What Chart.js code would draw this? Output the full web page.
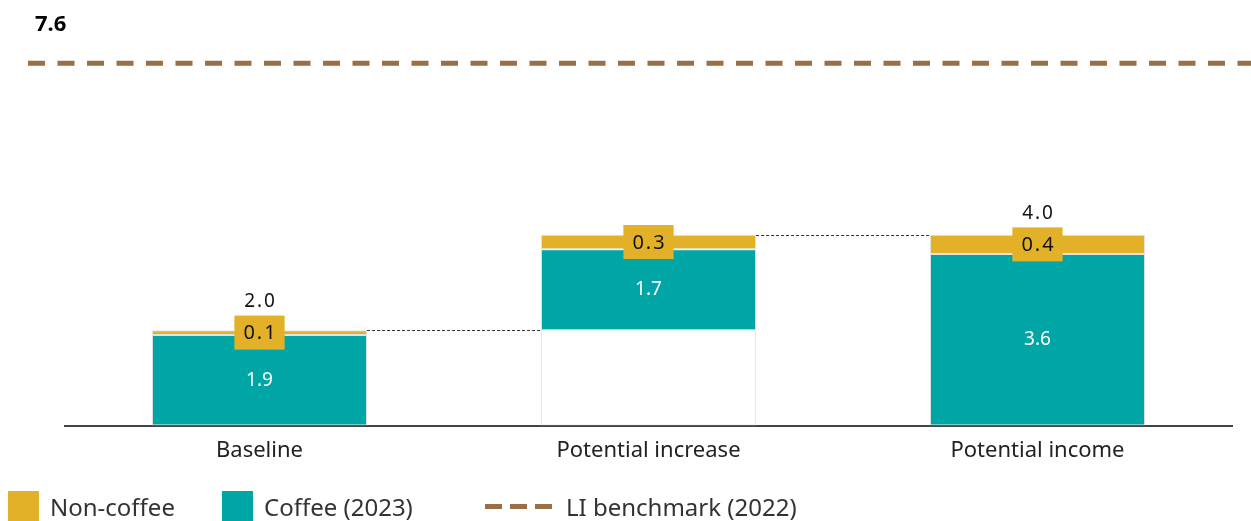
<!DOCTYPE html>
<html>
<head>
<meta charset="utf-8">
<script src="https://cdn.jsdelivr.net/npm/chart.js@4.4.1/dist/chart.umd.min.js"></script>
<style>
  body { margin: 0; background: #fff; font-family: "Noto Sans", sans-serif; }
  #wrap { position: relative; width: 1251px; height: 521px; overflow: hidden; }
  #benchmark-label { position: absolute; left: 35px; top: 7px; font: bold 22px "Noto Sans", sans-serif; color: #000; }
  .legend { position: absolute; top: 491px; left: 0; height: 30px; width: 1251px; font-size: 24px; color: #333; }
  .legend .item { position: absolute; top: 0; height: 30px; display: flex; align-items: center; }
  .legend .box { width: 31px; height: 30px; margin-right: 11px; }
  .legend .dash { display: flex; gap: 8px; margin-right: 14px; }
  .legend .dash span { width: 17px; height: 5px; background: #9b6f45; }
</style>
</head>
<body>
<div id="wrap">
  <canvas id="chart" width="1251" height="521"></canvas>
  <div id="benchmark-label"></div>
  <div class="legend">
    <div class="item" style="left:8px"><div class="box" style="background:#e3b128"></div>Non-coffee</div>
    <div class="item" style="left:222px"><div class="box" style="background:#00a6a6"></div>Coffee (2023)</div>
    <div class="item" style="left:485px"><div class="dash"><span></span><span></span><span></span></div>LI benchmark (2022)</div>
  </div>
</div>
<script>
const categories = ["Baseline", "Potential increase", "Potential income"];
const coffee = [1.9, 1.7, 3.6];
const nonCoffee = [0.1, 0.3, 0.4];
const totals = [2.0, null, 4.0];
const benchmark = 7.6;

const TEAL = "#00a6a6";
const GOLD = "#e3b128";
const BROWN = "#9b6f45";

// the middle bar floats on top of the baseline total
const baselineTotal = coffee[0] + nonCoffee[0];
const floatBase = [null, baselineTotal, null];

document.getElementById("benchmark-label").textContent = benchmark.toFixed(1);

function spaced(text) {
  return text.split("").join(String.fromCharCode(8202));
}

const waterfallLabels = {
  id: "waterfallLabels",
  afterDatasetsDraw(chart) {
    const ctx = chart.ctx;
    const y = chart.scales.y;
    const coffeeMeta = chart.getDatasetMeta(1);
    const nonMeta = chart.getDatasetMeta(2);
    ctx.save();

    // benchmark line across the whole width
    const by = y.getPixelForValue(benchmark);
    ctx.strokeStyle = BROWN;
    ctx.lineWidth = 5;
    ctx.setLineDash([17, 12.5]);
    ctx.beginPath();
    ctx.moveTo(28, by);
    ctx.lineTo(chart.width, by);
    ctx.stroke();

    // connectors between consecutive bars
    ctx.strokeStyle = "#333";
    ctx.lineWidth = 1;
    ctx.setLineDash([3, 2]);
    for (let i = 0; i < categories.length - 1; i++) {
      const top = (floatBase[i] || 0) + coffee[i] + nonCoffee[i];
      const py = Math.round(y.getPixelForValue(top)) + 0.5;
      const a = nonMeta.data[i];
      const b = nonMeta.data[i + 1];
      ctx.beginPath();
      ctx.moveTo(a.x + a.width / 2, py);
      ctx.lineTo(b.x - b.width / 2, py);
      ctx.stroke();
    }
    ctx.setLineDash([]);

    ctx.textAlign = "center";
    ctx.textBaseline = "middle";
    categories.forEach((c, i) => {
      const cb = coffeeMeta.data[i];
      ctx.fillStyle = "#fff";
      ctx.font = "19px 'Noto Sans'";
      ctx.fillText(coffee[i].toFixed(1), cb.x, (cb.y + cb.base) / 2);

      const nb = nonMeta.data[i];
      const cy = (nb.y + nb.base) / 2;
      const txt = spaced(nonCoffee[i].toFixed(1));
      ctx.font = "20px 'Noto Sans'";
      const w = ctx.measureText(txt).width + 18;
      ctx.fillStyle = GOLD;
      ctx.fillRect(nb.x - w / 2, cy - 17, w, 34);
      ctx.fillStyle = "#111";
      ctx.fillText(txt, nb.x, cy + 1);

      if (totals[i] !== null) {
        ctx.font = "19px 'Noto Sans'";
        ctx.fillStyle = "#111";
        ctx.fillText(spaced(totals[i].toFixed(1)), nb.x, cy - 31);
      }
    });
    ctx.restore();
  }
};

new Chart(document.getElementById("chart"), {
  type: "bar",
  data: {
    labels: categories,
    datasets: [
      {
        label: "base",
        data: floatBase,
        backgroundColor: "#fff",
        borderColor: "#e6e6e6",
        borderWidth: 1,
        borderSkipped: false
      },
      {
        label: "Coffee (2023)",
        data: coffee,
        backgroundColor: TEAL,
        borderColor: "#e3e3e3",
        borderWidth: 1,
        borderSkipped: false
      },
      {
        label: "Non-coffee",
        data: nonCoffee,
        backgroundColor: GOLD,
        borderColor: "#e3e3e3",
        borderWidth: 1,
        borderSkipped: false
      }
    ]
  },
  options: {
    responsive: false,
    animation: false,
    layout: { padding: { left: 65, right: 19, top: 25, bottom: 53 } },
    datasets: { bar: { categoryPercentage: 1, barPercentage: 0.553 } },
    plugins: { legend: { display: false }, tooltip: { enabled: false } },
    scales: {
      x: {
        stacked: true,
        grid: { display: false },
        border: { color: "#444", width: 2 },
        ticks: { color: "#222", font: { family: "Noto Sans", size: 22 }, padding: 4 }
      },
      y: { stacked: true, display: false, min: 0, max: 8.4 }
    }
  },
  plugins: [waterfallLabels]
});
</script>
</body>
</html>
